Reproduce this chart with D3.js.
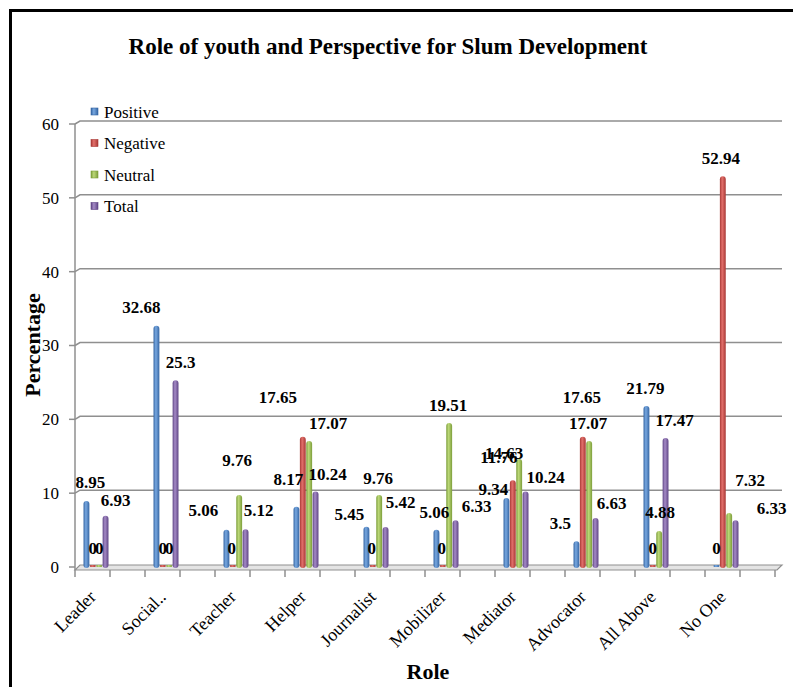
<!DOCTYPE html>
<html>
<head>
<meta charset="utf-8">
<script src="https://cdn.jsdelivr.net/npm/d3@7"></script>
<style>
  html, body { margin: 0; padding: 0; background: #fff; }
  svg { display: block; }
  text { font-family: "Liberation Serif", "Times New Roman", serif; fill: #000; }
</style>
</head>
<body>
<div id="chart"></div>
<script>
// données du graphique
const categories = ["Leader", "Social..", "Teacher", "Helper", "Journalist", "Mobilizer", "Mediator", "Advocator", "All Above", "No One"];
const seriesNames = ["Positive", "Negative", "Neutral", "Total"];
const positive = [8.95, 32.68, 5.06, 8.17, 5.45, 5.06, 9.34, 3.5, 21.79, 0];
const negative = [0, 0, 0, 17.65, 0, 0, 11.76, 17.65, 0, 52.94];
const neutral  = [0, 0, 9.76, 17.07, 9.76, 19.51, 14.63, 17.07, 4.88, 7.32];
const total    = [6.93, 25.3, 5.12, 10.24, 5.42, 6.33, 10.24, 6.63, 17.47, 6.33];
const yTicks = [0, 10, 20, 30, 40, 50, 60];

// décalages des étiquettes [dx, dy] (rendu 3D d'Excel)
const nudgePositive = [[4,-19],[-15,-19],[-23,-20],[-8,-28],[-17,-13],[-2,-18],[-13,-9],[-16,-18],[-1,-18],[0,-19]];
const nudgeNegative = [[0,-19],[0,-19],[-1,-19],[-25,-40],[-1,-19],[-1,-19],[-14,-23],[-1,-40],[0,-19],[-2,-18]];
const nudgeNeutral  = [[0,-19],[0,-19],[-2,-35],[19,-18],[-1,-17],[-1,-18],[-15,-6],[-1,-18],[1,-19],[21,-33]];
const nudgeTotal    = [[10,-16],[5,-18],[13,-19],[12,-17],[15,-25],[21,-14],[20,-14],[16,-15],[9,-18],[36,-12]];

const seriesValues = [positive, negative, neutral, total];
const seriesNudges = [nudgePositive, nudgeNegative, nudgeNeutral, nudgeTotal];
const colors = [
  {dark: "#3565a3", light: "#78a8e0"},
  {dark: "#a83835", light: "#e2706b"},
  {dark: "#7c9e3a", light: "#bcd878"},
  {dark: "#5f4585", light: "#a58bc6"}
];

const width = 793, height = 687;
const depth = 5; // décalage 3D du mur arrière

const svg = d3.select("#chart").append("svg")
  .attr("width", width)
  .attr("height", height);

// cadre noir
svg.append("rect")
  .attr("x", 10.5).attr("y", 10.5)
  .attr("width", 900).attr("height", 900)
  .attr("fill", "none").attr("stroke", "#000").attr("stroke-width", 3);

const x = d3.scaleBand().domain(categories).range([75, 775]);
const xs = d3.scaleBand().domain(seriesNames).range([8, 34]).padding(0.08);
const y = d3.scaleLinear().domain([0, 60]).range([567, 124]);

const defs = svg.append("defs");
colors.forEach((c, i) => {
  const g = defs.append("linearGradient").attr("id", "grad" + i)
    .attr("x1", "0%").attr("x2", "100%").attr("y1", "0%").attr("y2", "0%");
  g.append("stop").attr("offset", "0%").attr("stop-color", c.dark);
  g.append("stop").attr("offset", "40%").attr("stop-color", c.light);
  g.append("stop").attr("offset", "100%").attr("stop-color", c.dark);
});

// quadrillage (mur arrière)
const grid = svg.append("g");
yTicks.filter(d => d > 0).forEach(t => {
  grid.append("path")
    .attr("d", `M75,${y(t)}L${75 + depth},${y(t) - 3}H${777 + depth}`)
    .attr("fill", "none").attr("stroke", "#8f8f8f").attr("stroke-width", 1.5);
});

// axe Y
svg.append("line")
  .attr("x1", 75).attr("x2", 75).attr("y1", y(60)).attr("y2", 570)
  .attr("stroke", "#8f8f8f").attr("stroke-width", 1.5);
const yAxis = svg.append("g");
yAxis.selectAll("line").data(yTicks).join("line")
  .attr("x1", 69).attr("x2", 75)
  .attr("y1", d => y(d)).attr("y2", d => y(d))
  .attr("stroke", "#8f8f8f").attr("stroke-width", 1.5);
yAxis.selectAll("text").data(yTicks).join("text")
  .attr("x", 59).attr("y", d => y(d))
  .attr("dy", "0.35em").attr("text-anchor", "end")
  .style("font-size", "17px")
  .text(d => d);

// plancher
svg.append("path")
  .attr("d", `M75,570H777L${777 + depth},565H${75 + depth}Z`)
  .attr("fill", "#e4e4e4").attr("stroke", "#8f8f8f").attr("stroke-width", 1.2);
const xTicks = d3.range(0, categories.length * 2 + 1);
svg.append("g").selectAll("line").data(xTicks).join("line")
  .attr("x1", d => 75 + d * x.bandwidth() / 2)
  .attr("x2", d => 75 + d * x.bandwidth() / 2)
  .attr("y1", 570).attr("y2", 577)
  .attr("stroke", "#8f8f8f").attr("stroke-width", 1.5);

// barres
const rows = [];
seriesNames.forEach((s, si) => {
  categories.forEach((c, ci) => {
    rows.push({s, si, c, v: seriesValues[si][ci], n: seriesNudges[si][ci]});
  });
});

svg.append("g").selectAll("rect").data(rows).join("rect")
  .attr("x", d => x(d.c) + xs(d.s))
  .attr("y", d => d.v > 0 ? y(d.v) : y(0) - 2)
  .attr("width", xs.bandwidth())
  .attr("height", d => d.v > 0 ? y(0) - y(d.v) + 1 : 2)
  .attr("rx", d => d.v > 0 ? 3 : 1)
  .attr("fill", d => `url(#grad${d.si})`);

// étiquettes de valeurs
svg.append("g").selectAll("text").data(rows).join("text")
  .attr("x", d => x(d.c) + xs(d.s) + xs.bandwidth() / 2 + d.n[0])
  .attr("y", d => y(d.v) + d.n[1])
  .attr("dy", "0.35em")
  .attr("text-anchor", "middle")
  .style("font-size", "17px").style("font-weight", "bold")
  .text(d => d.v);

// libellés de catégories
svg.append("g").selectAll("text").data(categories).join("text")
  .attr("transform", d => `translate(${x(d) + 22},598) rotate(-45)`)
  .attr("text-anchor", "end")
  .style("font-size", "18px")
  .text(d => d);

// légende
const legend = svg.append("g");
seriesNames.forEach((s, i) => {
  const ly = 112 + i * 31.5;
  legend.append("rect")
    .attr("x", 91).attr("y", ly - 4).attr("width", 7).attr("height", 7)
    .attr("fill", `url(#grad${i})`).attr("stroke", colors[i].dark).attr("stroke-width", 0.6);
  legend.append("text")
    .attr("x", 104).attr("y", ly).attr("dy", "0.35em")
    .style("font-size", "17px")
    .text(s);
});

// titres
svg.append("text")
  .attr("x", 388).attr("y", 54)
  .attr("text-anchor", "middle")
  .style("font-size", "23px").style("font-weight", "bold")
  .text("Role of youth and Perspective for Slum Development");

svg.append("text")
  .attr("transform", "translate(40,345) rotate(-90)")
  .attr("text-anchor", "middle")
  .style("font-size", "22px").style("font-weight", "bold")
  .text("Percentage");

svg.append("text")
  .attr("x", 428).attr("y", 679)
  .attr("text-anchor", "middle")
  .style("font-size", "22px").style("font-weight", "bold")
  .text("Role");
</script>
</body>
</html>
